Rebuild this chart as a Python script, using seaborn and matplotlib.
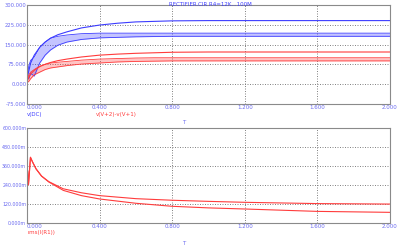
import matplotlib
matplotlib.use("Agg")
import matplotlib.pyplot as plt
import seaborn as sns

# time axis for the voltage traces (s)
t_v = [0, 0.01, 0.02, 0.04, 0.07, 0.1, 0.13, 0.17, 0.22, 0.3, 0.4, 0.5,
       0.6, 0.7, 0.8, 1.0, 1.2, 1.6, 2.0]
# v(DC), smooth upper trace and rippled trace (envelope lo / hi)
dc_smooth = [20, 50, 80, 110, 140, 160, 175, 188, 199, 214, 225, 232,
             237, 239, 241, 242, 242, 242, 242]
dc_rip_lo = [20, 20, 40, 30, 80, 110, 130, 148, 160, 170, 176, 178,
             180, 181, 182, 182, 182, 182, 182]
dc_rip_hi = [20, 70, 90, 103, 140, 160, 175, 182, 187, 192, 194, 194,
             194, 194, 194, 194, 194, 194, 194]
# v(V+2)-v(V+1)
diff_smooth = [10, 25, 38, 52, 66, 75, 82, 89, 95, 103, 110, 114,
               117, 119, 121, 122, 122, 122, 122]
diff_rip_lo = [5, 10, 20, 35, 45, 55, 61, 65, 70, 76, 80, 84,
               86, 87, 88, 88, 88, 88, 88]
diff_rip_hi = [10, 35, 45, 55, 68, 75, 80, 83, 86, 91, 95, 97,
               99, 100, 100, 100, 100, 100, 100]

# rms(I(R1)) in mA
t_i = [0, 0.003, 0.008, 0.012, 0.019, 0.03, 0.05, 0.08, 0.12, 0.2, 0.3,
       0.4, 0.6, 0.8, 1.0, 1.2, 1.6, 2.0]
rms_a = [0, 330, 240, 300, 413, 385, 340, 295, 260, 215, 190, 172, 153,
         143, 136, 130, 122, 119]
rms_b = [0, 330, 240, 300, 413, 385, 340, 295, 258, 205, 172, 151, 124,
         105, 95, 88, 73, 67]

x_ticks = [0, 0.4, 0.8, 1.2, 1.6, 2.0]
x_labels = ['0.000', '0.400', '0.800', '1.200', '1.600', '2.000']
v_ticks = [-75, 0, 75, 150, 225, 300]
v_labels = ['-75.000', '0.000', '75.000', '150.000', '225.000', '300.000']
i_ticks = [0, 120, 240, 360, 480, 600]
i_labels = ['0.000m', '120.000m', '240.000m', '360.000m', '480.000m',
            '600.000m']

BLUE = '#3c3cff'
RED = '#ff3c3c'
TICK = '#6a6af0'
FS = 4.0

sns.set_style('white')
plt.rcParams['font.family'] = ['DejaVu Sans']
fig = plt.figure(figsize=(4, 2.46), dpi=100)
ax1 = fig.add_axes([0.0675, 0.579, 0.9075, 0.399])
ax2 = fig.add_axes([0.0675, 0.0935, 0.9075, 0.388])


def style(ax, yt, yl, ysize):
    ax.set_xlim(0, 2)
    ax.set_ylim(yt[0], yt[-1])
    ax.set_xticks(x_ticks)
    ax.set_xticklabels(x_labels)
    ax.set_yticks(yt)
    ax.set_yticklabels(yl)
    ax.tick_params(length=0, labelsize=FS, colors=TICK, pad=1)
    ax.tick_params(axis='y', labelsize=ysize, pad=0.5)
    ax.get_xticklabels()[0].set_horizontalalignment('left')
    ax.grid(True, color='#707070', ls=(0, (1.2, 1.8)), lw=0.6)
    for s in ax.spines.values():
        s.set_color('#8a8a8a')
        s.set_linewidth(0.8)
    ax.set_xlabel('')
    ax.set_ylabel('')


ax1.fill_between(t_v, dc_rip_lo, dc_rip_hi, color=BLUE, alpha=0.3, lw=0)
ax1.fill_between(t_v, diff_rip_lo, diff_rip_hi, color=RED, alpha=0.3, lw=0)
sns.lineplot(x=t_v, y=dc_rip_lo, ax=ax1, color=BLUE, lw=0.6)
sns.lineplot(x=t_v, y=dc_rip_hi, ax=ax1, color=BLUE, lw=0.6)
sns.lineplot(x=t_v, y=dc_smooth, ax=ax1, color=BLUE, lw=0.8)
sns.lineplot(x=t_v, y=diff_rip_lo, ax=ax1, color=RED, lw=0.6)
sns.lineplot(x=t_v, y=diff_rip_hi, ax=ax1, color=RED, lw=0.6)
sns.lineplot(x=t_v, y=diff_smooth, ax=ax1, color=RED, lw=0.8)
style(ax1, v_ticks, v_labels, 3.8)

sns.lineplot(x=t_i, y=rms_a, ax=ax2, color=RED, lw=0.8)
sns.lineplot(x=t_i, y=rms_b, ax=ax2, color=RED, lw=0.8)
style(ax2, i_ticks, i_labels, 3.4)

fig.text(0.527, 0.992, 'RECTIFIER.CIR R4=12K...100M', color=BLUE,
         fontsize=FS, ha='center', va='top')
fig.text(0.068, 0.535, 'v(DC)', color=BLUE, fontsize=FS, va='center')
fig.text(0.24, 0.535, 'v(V+2)-v(V+1)', color=RED, fontsize=FS, va='center')
fig.text(0.455, 0.5, 'T', color=TICK, fontsize=FS, va='center')
fig.text(0.068, 0.053, 'rms(I(R1))', color=RED, fontsize=FS, va='center')
fig.text(0.455, 0.012, 'T', color=TICK, fontsize=FS, va='center')

fig.savefig('out.png', dpi=100)
